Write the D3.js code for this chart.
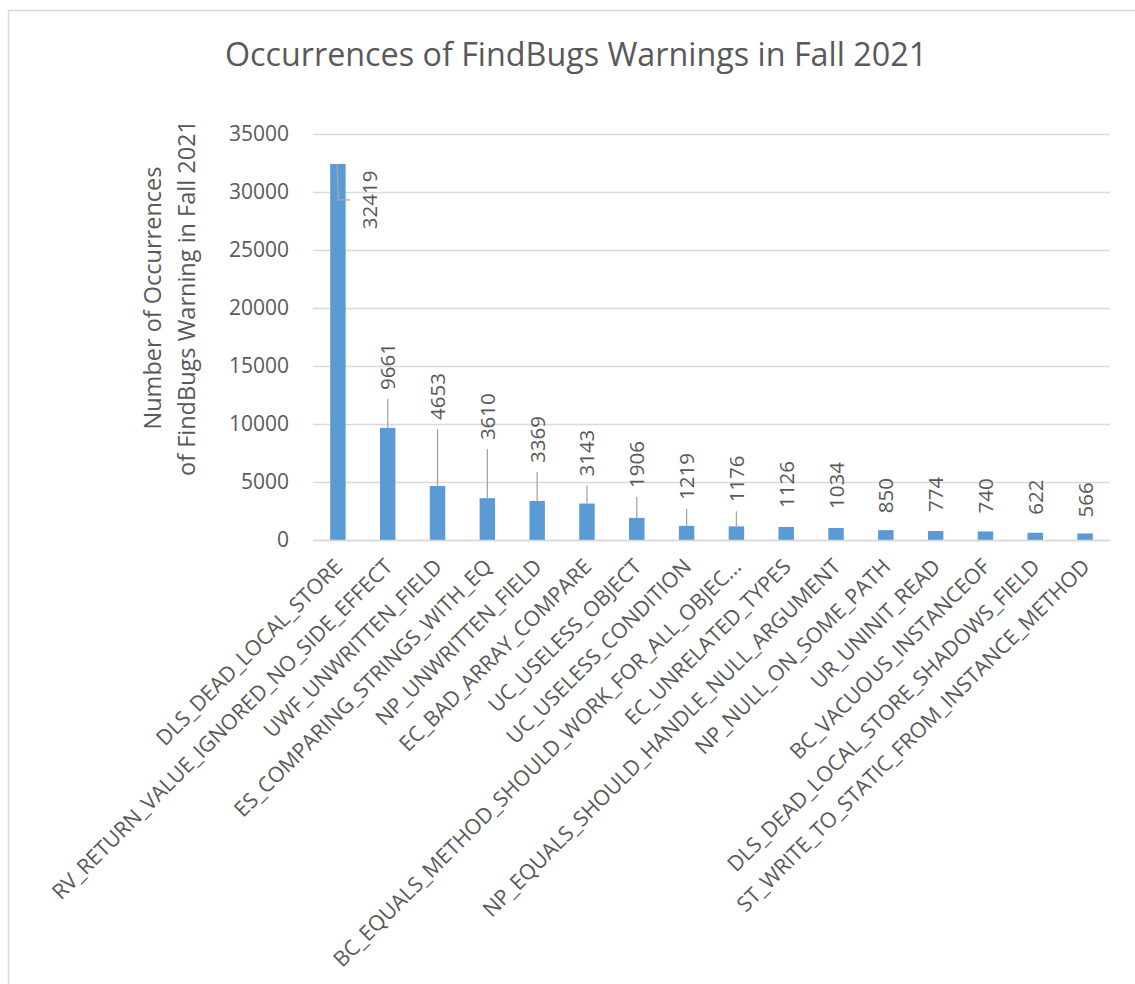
<!DOCTYPE html>
<html>
<head>
<meta charset="utf-8">
<script src="https://cdn.jsdelivr.net/npm/d3@7"></script>
<style>
  html, body { margin: 0; padding: 0; background: #fff; }
  svg { display: block; }
  text { font-family: "Open Sans", sans-serif; fill: #595959; }
</style>
</head>
<body>
<svg id="chart" width="1135" height="984"></svg>
<script>
// ---- data ----
const categories = [
  "DLS_DEAD_LOCAL_STORE",
  "RV_RETURN_VALUE_IGNORED_NO_SIDE_EFFECT",
  "UWF_UNWRITTEN_FIELD",
  "ES_COMPARING_STRINGS_WITH_EQ",
  "NP_UNWRITTEN_FIELD",
  "EC_BAD_ARRAY_COMPARE",
  "UC_USELESS_OBJECT",
  "UC_USELESS_CONDITION",
  "BC_EQUALS_METHOD_SHOULD_WORK_FOR_ALL_OBJEC...",
  "EC_UNRELATED_TYPES",
  "NP_EQUALS_SHOULD_HANDLE_NULL_ARGUMENT",
  "NP_NULL_ON_SOME_PATH",
  "UR_UNINIT_READ",
  "BC_VACUOUS_INSTANCEOF",
  "DLS_DEAD_LOCAL_STORE_SHADOWS_FIELD",
  "ST_WRITE_TO_STATIC_FROM_INSTANCE_METHOD"
];
const counts = [32419, 9661, 4653, 3610, 3369, 3143, 1906, 1219, 1176, 1126, 1034, 850, 774, 740, 622, 566];
const yTicks = [0, 5000, 10000, 15000, 20000, 25000, 30000, 35000];
const titleText = "Occurrences of FindBugs Warnings in Fall 2021";
const yTitleLines = ["Number of Occurrences", "of FindBugs Warning in Fall 2021"];

// ---- layout / style (manually placed data labels, px above bar top) ----
const labelLift = [null, 38, 66, 58, 38, 27, 30, 26, 24, 19, 19, 17, 19, 18, 18, 16];

const svg = d3.select("#chart");
const W = 1135, H = 984;
const plot = { left: 313, right: 1110, top: 134, bottom: 540 };
const barColor = "#5b9bd5";
const gridColor = "#d9d9d9";
const leaderColor = "#a6a6a6";

// chart border
svg.append("rect")
  .attr("x", 8.5).attr("y", 10.5)
  .attr("width", W + 20).attr("height", H + 20)
  .attr("fill", "none").attr("stroke", gridColor).attr("stroke-width", 1.5);

const x = d3.scaleBand().domain(categories)
  .range([plot.left, plot.right]).paddingInner(0.69).paddingOuter(0.345);
const y = d3.scaleLinear().domain([0, 35000]).range([plot.bottom, plot.top]);

// gridlines + y tick labels via axis
const yAxis = d3.axisLeft(y).tickValues(yTicks).tickSize(-(plot.right - plot.left)).tickPadding(24).tickFormat(d3.format("d"));
const gy = svg.append("g").attr("transform", `translate(${plot.left},0)`).call(yAxis);
gy.select(".domain").remove();
gy.selectAll(".tick line").attr("stroke", gridColor).attr("stroke-width", 1.5);
gy.selectAll(".tick text").attr("font-size", 21).attr("fill", "#595959")
  .attr("font-family", "Open Sans, sans-serif");

// bars
svg.append("g").selectAll("rect").data(counts).join("rect")
  .attr("x", (d, i) => x(categories[i]))
  .attr("y", d => y(d))
  .attr("width", x.bandwidth())
  .attr("height", d => y(0) - y(d))
  .attr("fill", barColor);

// x axis labels (rotated -45)
const xAxis = d3.axisBottom(x).tickSize(0).tickPadding(0);
const gx = svg.append("g").attr("transform", `translate(0,${plot.bottom})`).call(xAxis);
gx.select(".domain").attr("stroke", gridColor).attr("stroke-width", 1.5);
gx.selectAll(".tick text")
  .attr("font-size", 21.3)
  .attr("fill", "#595959")
  .attr("font-family", "Open Sans, sans-serif")
  .attr("text-anchor", "end")
  .attr("dy", null)
  .attr("y", 0)
  .attr("transform", "translate(6,28) rotate(-45)");

// data labels
const labels = svg.append("g");
counts.forEach((v, i) => {
  const cx = x(categories[i]) + x.bandwidth() / 2;
  const top = y(v);
  if (i === 0) {
    const ly = top + 36;
    labels.append("path")
      .attr("d", `M${cx - 1},${top} L${cx + 0.5},${ly} L${cx + 12},${ly}`)
      .attr("fill", "none").attr("stroke", leaderColor).attr("stroke-width", 1.3);
    labels.append("text")
      .attr("transform", `translate(${cx + 39},${ly}) rotate(-90)`)
      .attr("text-anchor", "middle")
      .attr("font-size", 20.5)
      .text(d3.format("d")(v));
  } else {
    const base = top - labelLift[i];
    if (labelLift[i] > 22) {
      labels.append("line")
        .attr("x1", cx).attr("x2", cx)
        .attr("y1", base + 9).attr("y2", top)
        .attr("stroke", leaderColor).attr("stroke-width", 1.3);
    }
    labels.append("text")
      .attr("transform", `translate(${cx + 7.5},${base}) rotate(-90)`)
      .attr("text-anchor", "start")
      .attr("font-size", 20.5)
      .text(d3.format("d")(v));
  }
});

// title
svg.append("text")
  .attr("x", 576).attr("y", 66)
  .attr("text-anchor", "middle")
  .attr("font-size", 32.3)
  .text(titleText);

// y axis title
const yt = svg.append("text")
  .attr("transform", "translate(0,298) rotate(-90)")
  .attr("text-anchor", "middle")
  .attr("font-size", 23.5);
yt.append("tspan").attr("x", 0).attr("y", 161).text(yTitleLines[0]);
yt.append("tspan").attr("x", 0).attr("y", 195).text(yTitleLines[1]);
</script>
</body>
</html>
